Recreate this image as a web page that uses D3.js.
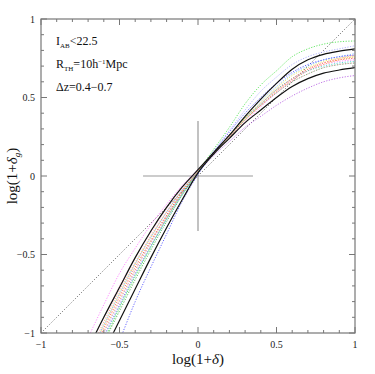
<!DOCTYPE html>
<html>
<head>
<meta charset="utf-8">
<script src="https://cdn.jsdelivr.net/npm/d3@7"></script>
<style>
  body { margin: 0; background: #fff; }
  svg { display: block; }
  text { font-family: 'Liberation Serif', 'DejaVu Serif', serif; }
</style>
</head>
<body>
<div id="chart"></div>
<script>
// x grid for all curves (log(1+delta))
const xs = [-0.7, -0.6, -0.5, -0.4, -0.3, -0.2, -0.1, 0, 0.1, 0.2, 0.3, 0.4, 0.5, 0.6, 0.7, 0.8, 0.9, 1.0];

// solid black curves
const blackUpper = [-1.10, -0.90, -0.71, -0.52, -0.35, -0.20, -0.07, 0.04, 0.15, 0.26, 0.38, 0.49, 0.59, 0.68, 0.74, 0.775, 0.795, 0.81];
const blackLower = [-1.30, -1.12, -0.92, -0.72, -0.52, -0.33, -0.15, 0.02, 0.14, 0.24, 0.34, 0.42, 0.50, 0.57, 0.62, 0.655, 0.675, 0.69];

// dotted coloured curves
const pink = [-1.03, -0.82, -0.62, -0.46, -0.31, -0.18, -0.06, 0.04, 0.14, 0.24, 0.34, 0.44, 0.53, 0.61, 0.67, 0.71, 0.73, 0.74];
const green = [-1.25, -1.05, -0.84, -0.64, -0.45, -0.27, -0.11, 0.03, 0.17, 0.31, 0.46, 0.58, 0.67, 0.76, 0.81, 0.84, 0.855, 0.86];
const lavender = [-1.20, -1.00, -0.80, -0.60, -0.42, -0.25, -0.10, 0.03, 0.16, 0.29, 0.42, 0.54, 0.63, 0.71, 0.76, 0.79, 0.81, 0.83];
const purple = [-1.22, -1.02, -0.82, -0.62, -0.44, -0.27, -0.11, 0.02, 0.13, 0.22, 0.31, 0.38, 0.45, 0.51, 0.56, 0.60, 0.625, 0.64];
const red = [-1.18, -0.97, -0.77, -0.58, -0.41, -0.25, -0.10, 0.03, 0.15, 0.26, 0.37, 0.46, 0.55, 0.62, 0.68, 0.72, 0.74, 0.75];
const orange = [-1.20, -0.99, -0.79, -0.60, -0.42, -0.26, -0.10, 0.03, 0.15, 0.25, 0.36, 0.45, 0.54, 0.61, 0.67, 0.71, 0.74, 0.76];
const cyan = [-1.24, -1.03, -0.83, -0.63, -0.45, -0.28, -0.12, 0.02, 0.15, 0.26, 0.37, 0.46, 0.55, 0.62, 0.67, 0.70, 0.72, 0.73];
const yellow = [-1.16, -0.95, -0.75, -0.56, -0.39, -0.23, -0.09, 0.03, 0.15, 0.26, 0.37, 0.47, 0.56, 0.64, 0.69, 0.73, 0.75, 0.76];
const olive = [-1.27, -1.06, -0.86, -0.66, -0.47, -0.29, -0.12, 0.02, 0.14, 0.25, 0.36, 0.45, 0.53, 0.60, 0.65, 0.69, 0.71, 0.72];
const rose = [-1.10, -0.90, -0.70, -0.52, -0.36, -0.21, -0.08, 0.04, 0.15, 0.25, 0.35, 0.45, 0.53, 0.60, 0.65, 0.69, 0.71, 0.72];
const salmon = [-1.14, -0.93, -0.73, -0.55, -0.38, -0.23, -0.09, 0.03, 0.14, 0.25, 0.36, 0.45, 0.54, 0.62, 0.68, 0.72, 0.75, 0.77];
const sky = [-1.15, -0.95, -0.75, -0.56, -0.39, -0.23, -0.09, 0.03, 0.15, 0.26, 0.38, 0.48, 0.57, 0.65, 0.70, 0.74, 0.76, 0.78];
const blue = [-1.50, -1.30, -1.05, -0.80, -0.58, -0.37, -0.16, 0.01, 0.15, 0.28, 0.40, 0.50, 0.59, 0.66, 0.71, 0.74, 0.76, 0.77];

const dottedSeries = [
  { values: pink, color: '#ff66ff' },
  { values: green, color: '#33dd33' },
  { values: lavender, color: '#9999ff' },
  { values: purple, color: '#aa44dd' },
  { values: red, color: '#ff3333' },
  { values: orange, color: '#ff9933' },
  { values: cyan, color: '#33cccc' },
  { values: yellow, color: '#dddd33' },
  { values: olive, color: '#339933' },
  { values: rose, color: '#ffaacc' },
  { values: salmon, color: '#ff8877' },
  { values: sky, color: '#66aaff' },
  { values: blue, color: '#3333ff' },
];
const solidSeries = [blackUpper, blackLower];

const majorTicks = [-1, -0.5, 0, 0.5, 1];
const minorTicks = [-0.9, -0.8, -0.7, -0.6, -0.4, -0.3, -0.2, -0.1, 0.1, 0.2, 0.3, 0.4, 0.6, 0.7, 0.8, 0.9];
const tickLabels = ['\u22121', '\u22120.5', '0', '0.5', '1'];

const width = 375;
const height = 374;
const margin = { top: 19, right: 20, bottom: 41, left: 41 };

const svg = d3.select('#chart')
  .append('svg')
  .attr('width', width)
  .attr('height', height);

const x = d3.scaleLinear().domain([-1, 1]).range([margin.left, width - margin.right]);
const y = d3.scaleLinear().domain([-1, 1]).range([height - margin.bottom, margin.top]);

svg.append('defs')
  .append('clipPath')
  .attr('id', 'plotClip')
  .append('rect')
  .attr('x', x(-1))
  .attr('y', y(1))
  .attr('width', x(1) - x(-1))
  .attr('height', y(-1) - y(1));

const plot = svg.append('g').attr('clip-path', 'url(#plotClip)');

// diagonal y = x
plot.append('line')
  .attr('x1', x(-1)).attr('y1', y(-1))
  .attr('x2', x(1)).attr('y2', y(1))
  .attr('stroke', '#333')
  .attr('stroke-width', 0.8)
  .attr('stroke-dasharray', '1,2');

// crosshair
plot.append('line')
  .attr('x1', x(-0.35)).attr('y1', y(0))
  .attr('x2', x(0.35)).attr('y2', y(0))
  .attr('stroke', '#999').attr('stroke-width', 1.2);
plot.append('line')
  .attr('x1', x(0)).attr('y1', y(0.35))
  .attr('x2', x(0)).attr('y2', y(-0.35))
  .attr('stroke', '#999').attr('stroke-width', 1.2);

const line = d3.line()
  .x((d, i) => x(xs[i]))
  .y((d) => y(d))
  .curve(d3.curveMonotoneX);

dottedSeries.forEach((s) => {
  plot.append('path')
    .datum(s.values)
    .attr('fill', 'none')
    .attr('stroke', s.color)
    .attr('stroke-width', 0.75)
    .attr('stroke-dasharray', '1.2,1.5')
    .attr('d', line);
});

solidSeries.forEach((s) => {
  plot.append('path')
    .datum(s)
    .attr('fill', 'none')
    .attr('stroke', '#111')
    .attr('stroke-width', 1.2)
    .attr('d', line);
});

// frame
const axisColor = '#777';
svg.append('rect')
  .attr('x', x(-1)).attr('y', y(1))
  .attr('width', x(1) - x(-1)).attr('height', y(-1) - y(1))
  .attr('fill', 'none')
  .attr('stroke', axisColor)
  .attr('stroke-width', 1.2);

// inward ticks on all four sides
const ticks = svg.append('g').attr('stroke', axisColor).attr('stroke-width', 1);
const addTicks = (values, len) => {
  values.forEach((v) => {
    ticks.append('line').attr('x1', x(v)).attr('x2', x(v)).attr('y1', y(-1)).attr('y2', y(-1) - len);
    ticks.append('line').attr('x1', x(v)).attr('x2', x(v)).attr('y1', y(1)).attr('y2', y(1) + len);
    ticks.append('line').attr('y1', y(v)).attr('y2', y(v)).attr('x1', x(-1)).attr('x2', x(-1) + len);
    ticks.append('line').attr('y1', y(v)).attr('y2', y(v)).attr('x1', x(1)).attr('x2', x(1) - len);
  });
};
addTicks(majorTicks, 6);
addTicks(minorTicks, 3);

// tick labels
majorTicks.forEach((v, i) => {
  svg.append('text')
    .attr('x', x(v))
    .attr('y', y(-1) + 15)
    .attr('text-anchor', 'middle')
    .attr('font-size', 10)
    .attr('fill', '#222')
    .text(tickLabels[i]);
  svg.append('text')
    .attr('x', x(-1) - 6)
    .attr('y', y(v) + 3.5)
    .attr('text-anchor', 'end')
    .attr('font-size', 10)
    .attr('fill', '#222')
    .text(tickLabels[i]);
});

// axis titles
const xTitle = svg.append('text')
  .attr('x', x(0))
  .attr('y', 364)
  .attr('text-anchor', 'middle')
  .attr('font-size', 15)
  .attr('fill', '#111');
xTitle.append('tspan').text('log(1+');
xTitle.append('tspan').attr('font-style', 'italic').text('\u03b4');
xTitle.append('tspan').text(')');

const yTitle = svg.append('text')
  .attr('transform', `translate(17,${y(0)}) rotate(-90)`)
  .attr('text-anchor', 'middle')
  .attr('font-size', 15)
  .attr('fill', '#111');
yTitle.append('tspan').text('log(1+');
yTitle.append('tspan').attr('font-style', 'italic').text('\u03b4');
yTitle.append('tspan').attr('font-size', 9).attr('dy', 3).attr('font-style', 'italic').text('g');
yTitle.append('tspan').attr('dy', -3).text(')');

// annotations
const note = svg.append('g').attr('font-size', 12).attr('fill', '#111');
const t1 = note.append('text').attr('x', 56).attr('y', 45);
t1.append('tspan').text('I');
t1.append('tspan').attr('font-size', 7).attr('dy', 3).text('AB');
t1.append('tspan').attr('dy', -3).text('<22.5');

const t2 = note.append('text').attr('x', 56).attr('y', 68);
t2.append('tspan').text('R');
t2.append('tspan').attr('font-size', 7).attr('dy', 3).text('TH');
t2.append('tspan').attr('dy', -3).text('=10h');
t2.append('tspan').attr('font-size', 7).attr('dy', -4).text('\u22121');
t2.append('tspan').attr('dy', 4).text('Mpc');

note.append('text').attr('x', 56).attr('y', 91).text('\u0394z=0.4\u22120.7');
</script>
</body>
</html>
